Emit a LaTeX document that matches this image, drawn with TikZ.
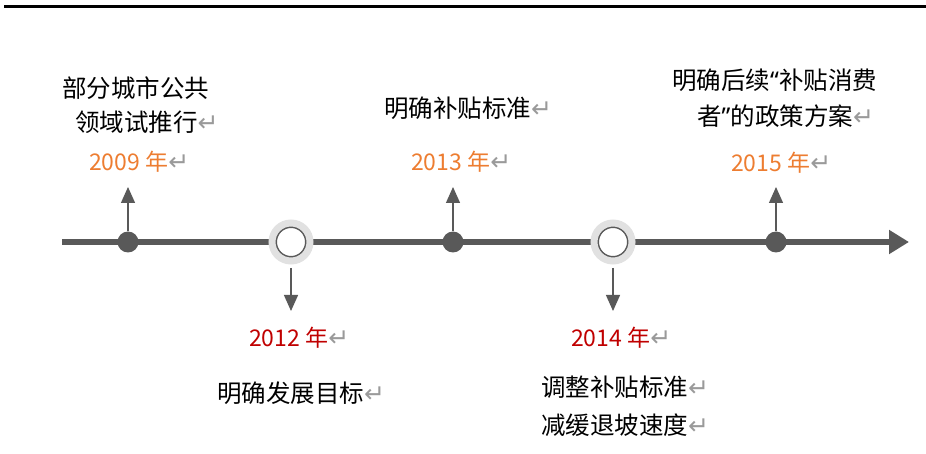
\documentclass[tikz,border=0pt]{standalone}
\usepackage{fontspec}
\setmainfont{Noto Sans CJK SC}
\newfontfamily\symfont{DejaVu Sans}
\newfontfamily\quotefont{Noto Sans}
\usetikzlibrary{arrows.meta}

\definecolor{tlgrey}{HTML}{595959}
\definecolor{ringgrey}{HTML}{E1E1E1}
\definecolor{markgrey}{HTML}{9A9A9A}
\definecolor{yrorange}{HTML}{ED7D31}
\definecolor{yrred}{HTML}{C00000}

\newcommand\pmark{{\symfont\color{markgrey}\fontsize{25}{25}\selectfont ↵}}

\begin{document}
\begin{tikzpicture}[x=1pt, y=-1pt,
  evt/.style={circle, fill=tlgrey, minimum size=21pt, inner sep=0pt},
  ringevt/.style={circle, draw=ringgrey, line width=7pt, fill=white, minimum size=38pt, inner sep=0pt,
    path picture={\draw[tlgrey, line width=2pt] (path picture bounding box.center) circle (15pt);}},
  stem/.style={tlgrey, line width=1.3pt, -{Triangle[length=16pt, width=14pt]}},
  year/.style={anchor=west, inner sep=0pt, font=\fontsize{23}{23}\selectfont},
  note/.style={anchor=west, inner sep=0pt, text=black, font=\fontsize{24.5}{24.5}\selectfont}]

\useasboundingbox (0,0) rectangle (926,454);

% top rule
\draw[line width=3pt] (4,7) coordinate (rule-l) -- (926,7) coordinate (rule-r);

% time line
\coordinate (tl-start) at (62,242);
\coordinate (tl-end) at (909,242);
\draw[tlgrey, line width=6pt, -{Triangle[length=20pt, width=23pt]}] (tl-start) -- (tl-end);

\node[evt] (d2009) at (128,242) {};
\node[ringevt] (c2012) at (291,242) {};
\node[evt] (d2013) at (453,242) {};
\node[ringevt] (c2014) at (613,242) {};
\node[evt] (d2015) at (776,242) {};

% stems
\coordinate (t2009) at (128,187);
\coordinate (t2013) at (453,187);
\coordinate (t2015) at (776,187);
\coordinate (t2012) at (291,311);
\coordinate (t2014) at (613,311);
\draw[stem] (d2009) -- (t2009);
\draw[stem] (d2013) -- (t2013);
\draw[stem] (d2015) -- (t2015);
\draw[stem, shorten <=3.5pt] (c2012) -- (t2012);
\draw[stem, shorten <=3.5pt] (c2014) -- (t2014);

% labels above
\node[year, text=yrorange] (y2009) at (89,162) {2009 年\pmark};
\node[note] (n2009-a) at (62,88) {部分城市公共};
\node[note] (n2009-b) at (75,122) {领域试推行\pmark};

\node[year, text=yrorange] (y2013) at (411,162) {2013 年\pmark};
\node[note] (n2013) at (384,108) {明确补贴标准\pmark};

\node[year, text=yrorange] (y2015) at (731,163) {2015 年\pmark};
\node[note] (n2015-a) at (672,80) {明确后续{\quotefont “}补贴消费};
\node[note] (n2015-b) at (697,116) {者{\quotefont ”}的政策方案\pmark};

% labels below
\node[year, text=yrred] (y2012) at (249,338) {2012 年\pmark};
\node[note] (n2012) at (217,393) {明确发展目标\pmark};

\node[year, text=yrred] (y2014) at (571,338) {2014 年\pmark};
\node[note] (n2014-a) at (541,387) {调整补贴标准\pmark};
\node[note] (n2014-b) at (541,425) {减缓退坡速度\pmark};

\end{tikzpicture}
\end{document}
